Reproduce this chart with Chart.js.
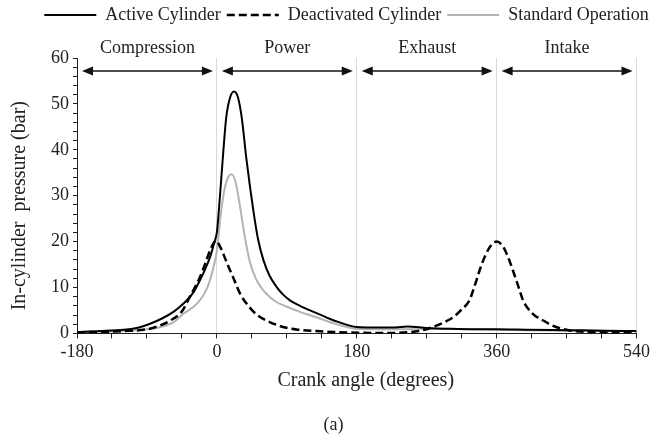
<!DOCTYPE html>
<html>
<head>
<meta charset="utf-8">
<script src="https://cdn.jsdelivr.net/npm/chart.js@4.4.0/dist/chart.umd.min.js"></script>
<style>
html, body { margin: 0; padding: 0; background: #fff; }
#wrap { width: 653px; height: 439px; }
</style>
</head>
<body>
<div id="wrap"><canvas id="myChart"></canvas></div>
<script>
// crank angle (deg) / in-cylinder pressure (bar)
const activeAngle = [-180,-150,-120,-100,-86,-70,-55,-43,-30,-22,-15,-8,-3,0,4,8,12,17,22,27,32,38,47,53,60,68,77,85,94,107,120,133,145,158,171,180,200,230,245,270,300,330,360,400,450,500,540];
const activePressure = [0.3,0.5,0.8,1.3,2.1,3.3,4.8,6.5,9.0,11.5,14,17,20,22,30,39,47,51.4,52.7,51.5,47,38,26.7,20.5,15.9,12.5,10.1,8.5,7.2,6.0,5.0,4.1,3.2,2.4,1.7,1.4,1.3,1.3,1.5,1.2,1.0,0.9,0.9,0.8,0.7,0.6,0.5];

const deactAngle = [-180,-150,-120,-90,-75,-60,-45,-35,-22,-15,-9,-4,-1,3,9,15,21,30,42,52,64,85,105,128,150,180,220,250,265,278,292,304,315,325,332,338,345,352,360,368,375,381,388,394,405,420,435,454,480,510,540];
const deactPressure = [0.2,0.3,0.5,0.9,1.6,2.8,4.8,7.9,12.2,15.2,18,19.7,20.2,19.3,17,14.5,12.2,8.6,5.7,4.0,2.8,1.4,0.8,0.5,0.3,0.15,0.1,0.3,0.7,1.4,2.4,3.5,5.2,7.2,10.5,13.7,16.8,19,20,19,16.5,13.7,10.2,7.2,4.5,2.8,1.5,0.65,0.3,0.2,0.2];

const stdAngle = [-180,-150,-120,-90,-70,-55,-43,-30,-22,-15,-10,-5,0,5,10,15,19,24,29,35,42,50,57,64,75,90,107,130,150,170,180,200,250,290,330,360,400,450,500,540];
const stdPressure = [0.3,0.4,0.5,0.9,1.5,2.5,4.3,5.8,7.2,9,11,14,18,26,31.5,34.2,34.7,33,28.5,22,15.9,12,10,8.6,7,5.8,4.7,3.4,2.2,1.3,1.0,0.9,0.9,1.0,0.9,0.8,0.7,0.6,0.5,0.5];

const phaseNames = ['Compression', 'Power', 'Exhaust', 'Intake'];
const phaseStart = [-180, 0, 180, 360];
const phaseEnd = [0, 180, 360, 540];

const xTitle = 'Crank angle (degrees)';
const yTitle = 'In-cylinder  pressure (bar)';

const serif = '"Liberation Serif", "Times New Roman", serif';

function toPoints(xs, ys) {
    return xs.map((x, i) => ({ x: x, y: ys[i] }));
}

// double arrows, stroke names and axis titles
const phasePlugin = {
    id: 'phases',
    afterLayout(chart) {
        // the legend and the caption sit a bit right of centre in the original
        chart.legend.left += 28;
        chart.legend.right += 28;
        chart.boxes.forEach(b => {
            if (b.options && b.options.text === '(a)') {
                b.left += 15;
                b.right += 15;
            }
        });
    },
    afterDatasetsDraw(chart) {
        const ctx = chart.ctx;
        const xs = chart.scales.x;
        const area = chart.chartArea;
        const top = area.top;
        const y = top + 13;
        ctx.save();
        ctx.strokeStyle = '#111';
        ctx.lineWidth = 1.3;
        ctx.font = '18px ' + serif;
        ctx.textAlign = 'center';
        ctx.textBaseline = 'middle';
        phaseNames.forEach((name, i) => {
            const a = xs.getPixelForValue(phaseStart[i]) + 5;
            const b = xs.getPixelForValue(phaseEnd[i]) - 4;
            ctx.fillStyle = '#111';
            ctx.beginPath();
            ctx.moveTo(a + 8, y);
            ctx.lineTo(b - 8, y);
            ctx.stroke();
            ctx.beginPath();
            ctx.moveTo(a, y);
            ctx.lineTo(a + 11, y - 4.5);
            ctx.lineTo(a + 11, y + 4.5);
            ctx.closePath();
            ctx.fill();
            ctx.beginPath();
            ctx.moveTo(b, y);
            ctx.lineTo(b - 11, y - 4.5);
            ctx.lineTo(b - 11, y + 4.5);
            ctx.closePath();
            ctx.fill();
            ctx.fillStyle = '#222';
            ctx.fillText(name, (a + b) / 2, top - 10);
        });

        ctx.fillStyle = '#222';
        ctx.font = '20px ' + serif;
        ctx.fillText(xTitle, (area.left + area.right) / 2 + 9, area.bottom + 47);
        ctx.translate(20, (area.top + area.bottom) / 2 + 10);
        ctx.rotate(-Math.PI / 2);
        ctx.fillText(yTitle, 0, 0);
        ctx.restore();
    }
};

const ctx = document.getElementById('myChart').getContext('2d');

new Chart(ctx, {
    type: 'line',
    data: {
        datasets: [{
            label: 'Active Cylinder',
            data: toPoints(activeAngle, activePressure),
            borderColor: '#000',
            backgroundColor: 'rgba(0,0,0,0)',
            borderWidth: 2
        }, {
            label: 'Deactivated Cylinder',
            data: toPoints(deactAngle, deactPressure),
            borderColor: '#000',
            backgroundColor: 'rgba(0,0,0,0)',
            borderWidth: 2.5,
            borderDash: [8, 4]
        }, {
            label: 'Standard Operation',
            data: toPoints(stdAngle, stdPressure),
            borderColor: '#b3b3b3',
            backgroundColor: 'rgba(0,0,0,0)',
            borderWidth: 2
        }]
    },
    options: {
        responsive: true,
        maintainAspectRatio: false,
        animation: false,
        layout: { padding: { top: 0, left: 0, right: 16, bottom: 0 } },
        elements: {
            point: { radius: 0, hoverRadius: 0 },
            line: { cubicInterpolationMode: 'monotone', fill: false }
        },
        scales: {
            x: {
                type: 'linear',
                min: -180,
                max: 540,
                afterFit(s) { s.height = 59; },
                ticks: {
                    stepSize: 45,
                    autoSkip: false,
                    maxRotation: 0,
                    padding: 3,
                    color: '#222',
                    font: { family: serif, size: 18 },
                    callback: v => (v % 180 === 0 ? v : '')
                },
                grid: {
                    color: c => (c.tick && c.tick.value % 180 === 0 && c.tick.value !== -180 ? '#d9d9d9' : 'rgba(0,0,0,0)'),
                    tickColor: '#222',
                    tickLength: 5,
                    lineWidth: 1
                },
                border: { display: true, color: '#222', width: 1 }
            },
            xTop: {
                type: 'linear',
                position: 'top',
                min: -180,
                max: 540,
                afterFit(s) { s.height = 24; },
                grid: { display: false },
                border: { display: false },
                ticks: { display: false }
            },
            y: {
                min: 0,
                max: 60,
                afterFit(s) { s.width = 77; },
                ticks: {
                    stepSize: 2,
                    autoSkip: false,
                    padding: 4,
                    color: '#222',
                    font: { family: serif, size: 18 },
                    callback: v => (v % 10 === 0 ? v : '')
                },
                grid: {
                    drawOnChartArea: false,
                    color: '#222',
                    tickLength: 4
                },
                border: { display: true, color: '#222', width: 1 }
            }
        },
        plugins: {
            legend: {
                position: 'top',
                labels: {
                    boxWidth: 52,
                    boxHeight: 0,
                    padding: 6,
                    color: '#222',
                    font: { family: serif, size: 18 }
                }
            },
            subtitle: {
                display: true,
                position: 'bottom',
                text: '(a)',
                color: '#222',
                font: { family: serif, size: 18, weight: 'normal' },
                padding: { top: 22, bottom: 3 }
            },
            tooltip: { enabled: false }
        }
    },
    plugins: [phasePlugin]
});
</script>
</body>
</html>
